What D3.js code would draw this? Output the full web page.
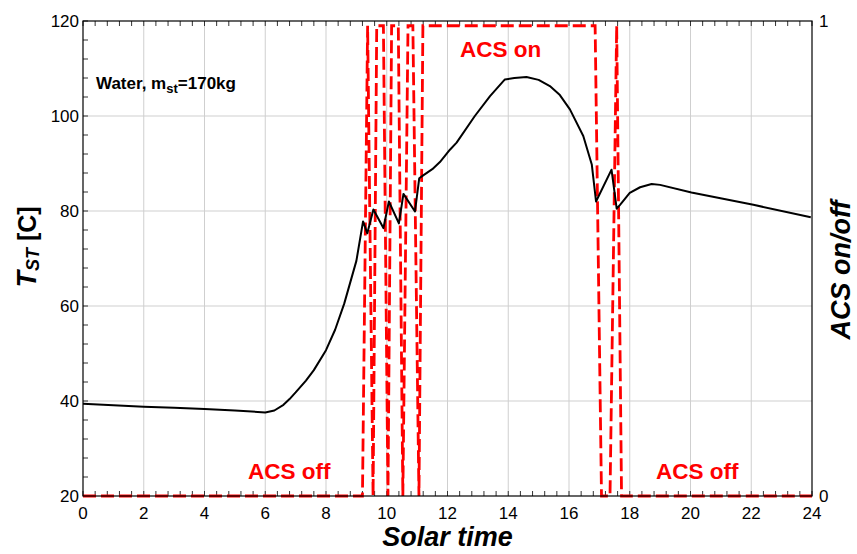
<!DOCTYPE html>
<html>
<head>
<meta charset="utf-8">
<script src="https://cdn.jsdelivr.net/npm/d3@7"></script>
<style>
  body { margin: 0; background: #fff; }
  text { font-family: Arial, "Liberation Sans", sans-serif; }
</style>
</head>
<body>
<svg id="chart" width="857" height="554"></svg>
<script>
// storage temperature (black line)
var tempTime = [0, 1, 2, 3, 4, 5, 6, 6.3, 6.6, 6.8, 7.0, 7.34, 7.6, 8.0, 8.3, 8.6, 9.0, 9.22,
  9.36, 9.56, 9.89, 10.07, 10.40, 10.55, 10.93, 11.07, 11.2, 11.5, 11.75, 12.08, 12.3, 12.9,
  13.4, 13.89, 14.2, 14.6, 15.0, 15.37, 15.7, 16.03, 16.47, 16.75, 16.89, 17.40, 17.57, 17.68,
  18.0, 18.34, 18.72, 19.0, 20.03, 22.07, 23.96];
var tempValue = [39.4, 39.1, 38.8, 38.6, 38.3, 38.0, 37.6, 38.0, 39.2, 40.4, 41.8, 44.3, 46.5,
  50.7, 55.0, 60.5, 69.5, 77.8, 75.3, 80.3, 76.4, 82.0, 77.4, 83.6, 79.9, 86.9, 87.5, 88.8, 90.3,
  92.9, 94.4, 100.0, 104.2, 107.7, 108.0, 108.2, 107.6, 106.3, 104.4, 101.4, 95.8, 89.8, 82.0,
  88.7, 80.5, 81.3, 83.8, 85.0, 85.7, 85.5, 83.9, 81.3, 78.7];

// ACS on/off state (red dashed line)
var acsTime = [0, 9.2, 9.37, 9.55, 9.67, 9.89, 10.04, 10.16, 10.38, 10.53, 10.70, 10.86, 11.06,
  11.19, 16.86, 17.07, 17.35, 17.57, 17.73, 24];
var acsState = [0, 0, 0.99, 0, 0.99, 0.99, 0, 0.99, 0.99, 0, 0.99, 0.99, 0,
  0.99, 0.99, 0, 0, 0.99, 0, 0];

var xTicks = [0, 2, 4, 6, 8, 10, 12, 14, 16, 18, 20, 22, 24];
var yTicks = [20, 40, 60, 80, 100, 120];
var rightTicks = [0, 1];

var svg = d3.select("#chart");

var pLeft = 83, pRight = 812, pTop = 21, pBottom = 496;

var x = d3.scaleLinear().domain([0, 24]).range([pLeft, pRight]);
var y = d3.scaleLinear().domain([20, 120]).range([pBottom, pTop]);
var y2 = d3.scaleLinear().domain([0, 1]).range([pBottom, pTop]);

// grid
svg.selectAll(".vgrid").data(xTicks.slice(1, -1)).enter().append("line")
  .attr("x1", d => x(d)).attr("x2", d => x(d))
  .attr("y1", pTop).attr("y2", pBottom)
  .attr("stroke", "#cfcfcf").attr("stroke-width", 1);

svg.selectAll(".hgrid").data(yTicks.slice(1, -1)).enter().append("line")
  .attr("x1", pLeft).attr("x2", pRight)
  .attr("y1", d => y(d)).attr("y2", d => y(d))
  .attr("stroke", "#cfcfcf").attr("stroke-width", 1);

// minor ticks, pointing inward
var xMinor = d3.range(0, 24.01, 0.4);
svg.selectAll(".xtickb").data(xMinor).enter().append("line")
  .attr("x1", d => x(d)).attr("x2", d => x(d))
  .attr("y1", pBottom).attr("y2", pBottom - 5)
  .attr("stroke", "#333");
svg.selectAll(".xtickt").data(xMinor).enter().append("line")
  .attr("x1", d => x(d)).attr("x2", d => x(d))
  .attr("y1", pTop).attr("y2", pTop + 5)
  .attr("stroke", "#333");
var yMinor = d3.range(20, 120.01, 4);
svg.selectAll(".ytick").data(yMinor).enter().append("line")
  .attr("x1", pLeft).attr("x2", pLeft + 5)
  .attr("y1", d => y(d)).attr("y2", d => y(d))
  .attr("stroke", "#333");

// ACS line
var acsData = acsTime.map((t, i) => [t, acsState[i]]);
svg.append("path")
  .datum(acsData)
  .attr("d", d3.line().x(d => x(d[0])).y(d => y2(d[1])))
  .attr("fill", "none")
  .attr("stroke", "#ff0000")
  .attr("stroke-width", 2.8)
  .attr("stroke-dasharray", "13,5");

// temperature line
var tempData = tempTime.map((t, i) => [t, tempValue[i]]);
svg.append("path")
  .datum(tempData)
  .attr("d", d3.line().x(d => x(d[0])).y(d => y(d[1])))
  .attr("fill", "none")
  .attr("stroke", "#000")
  .attr("stroke-width", 2)
  .attr("stroke-linejoin", "round");

// frame
svg.append("rect")
  .attr("x", pLeft).attr("y", pTop)
  .attr("width", pRight - pLeft).attr("height", pBottom - pTop)
  .attr("fill", "none").attr("stroke", "#000").attr("stroke-width", 1.2);

// tick labels
svg.selectAll(".xlab").data(xTicks).enter().append("text")
  .attr("x", d => x(d)).attr("y", pBottom + 23)
  .attr("text-anchor", "middle").attr("font-size", 17)
  .text(d => d);

svg.selectAll(".ylab").data(yTicks).enter().append("text")
  .attr("x", pLeft - 4).attr("y", d => y(d) + 6)
  .attr("text-anchor", "end").attr("font-size", 17)
  .text(d => d);

svg.selectAll(".y2lab").data(rightTicks).enter().append("text")
  .attr("x", pRight + 7).attr("y", d => y2(d) + 6)
  .attr("text-anchor", "start").attr("font-size", 17)
  .text(d => d);

// axis titles
svg.append("text")
  .attr("x", (pLeft + pRight) / 2).attr("y", 546)
  .attr("text-anchor", "middle")
  .attr("font-size", 27).attr("font-weight", "bold").attr("font-style", "italic")
  .text("Solar time");

var yt = svg.append("text")
  .attr("transform", "translate(36,247) rotate(-90)")
  .attr("text-anchor", "middle")
  .attr("font-size", 27).attr("font-weight", "bold");
yt.append("tspan").attr("font-style", "italic").text("T");
yt.append("tspan").attr("font-style", "italic").attr("font-size", 18).attr("dy", 3).text("ST");
yt.append("tspan").attr("dy", -3).attr("font-size", 25).text(" [C]");

svg.append("text")
  .attr("transform", "translate(850,270) rotate(-90)")
  .attr("text-anchor", "middle")
  .attr("font-size", 27).attr("font-weight", "bold").attr("font-style", "italic")
  .text("ACS on/off");

// annotations
var note = svg.append("text")
  .attr("x", 96).attr("y", 89)
  .attr("font-size", 17).attr("font-weight", "bold");
note.append("tspan").text("Water, m");
note.append("tspan").attr("font-size", 13).attr("dy", 4).text("st");
note.append("tspan").attr("dy", -4).text("=170kg");

svg.append("text")
  .attr("x", 460).attr("y", 57)
  .attr("font-size", 22.5).attr("font-weight", "bold").attr("fill", "#ff0000")
  .text("ACS on");
svg.append("text")
  .attr("x", 248).attr("y", 479)
  .attr("font-size", 22.5).attr("font-weight", "bold").attr("fill", "#ff0000")
  .text("ACS off");
svg.append("text")
  .attr("x", 656).attr("y", 479)
  .attr("font-size", 22.5).attr("font-weight", "bold").attr("fill", "#ff0000")
  .text("ACS off");
</script>
</body>
</html>
